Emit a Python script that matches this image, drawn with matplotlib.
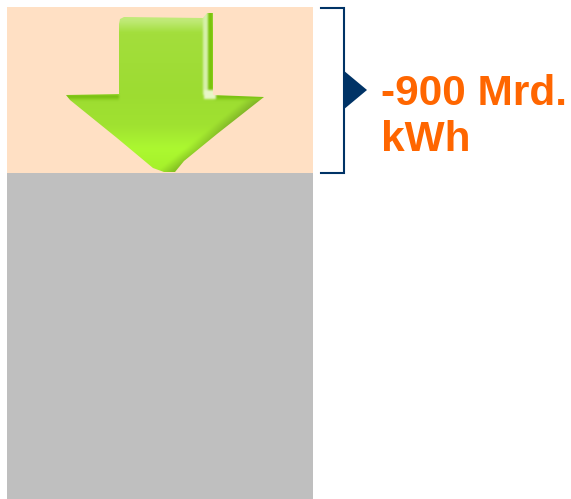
import numpy as np
import matplotlib.pyplot as plt
from matplotlib.patches import Polygon

# stacked column, values in Mrd. kWh (gray part estimated from the 900 segment)
segments = ["remaining", "savings"]
values = [1767, 900]
colors = ["#bfbfbf", "#ffe0c4"]
label_lines = ["-900 Mrd.", "kWh"]

W, H = 571, 499
fig = plt.figure(figsize=(W / 100, H / 100), dpi=100)

# bar axes, spans the whole figure height
ax = fig.add_axes([0, 0, 1, 1])
units_per_px = 900 / 166
ax.set_ylim(0, H * units_per_px)
ax.set_xlim(-7 / 306 - 0.5, (W - 7) / 306 - 0.5)
bottom = 0
for name, val, col in zip(segments, values, colors):
    ax.bar(0, val, width=1.0, bottom=bottom, color=col, linewidth=0, label=name)
    bottom += val
ax.axis("off")

# overlay in pixel coordinates for the decorations
ov = fig.add_axes([0, 0, 1, 1])
ov.set_xlim(0, W)
ov.set_ylim(H, 0)
ov.axis("off")
ov.patch.set_alpha(0)

# green arrow: gradient image clipped to an arrow outline
outline = [(119, 24), (120, 19), (124, 17), (203, 18), (207, 13), (213, 13), (213, 95),
           (264, 97), (217, 134), (184, 161), (175, 172), (164, 172), (153, 168),
           (117, 138), (70, 100), (66, 95), (119, 94)]
yy, xx = np.mgrid[0:H, 0:W]
stops_y = [13, 20, 32, 93, 125, 148, 172]
r = np.interp(yy, stops_y, [192, 192, 163, 157, 160, 172, 165])
g = np.interp(yy, stops_y, [234, 234, 222, 220, 226, 248, 240])
b = np.interp(yy, stops_y, [120, 120, 60, 50, 48, 48, 42])
img = np.dstack([r, g, b])

# slightly darker right flank of the head, close to the edge
dist = (yy - 97) - (264 - xx) * (75 / 92)
flank = np.clip(1 + dist / 14, 0, 1) * (yy > 99)
img *= (1 - 0.2 * flank)[..., None]
# top edge of the wings, fading downwards
for row, mix in [(95, 1.0), (96, 1.0), (97, 0.8), (98, 0.55), (99, 0.3), (100, 0.15)]:
    wings = (yy == row) & ((xx < 119) | (xx > 213))
    img[wings] = img[wings] * (1 - mix) + np.array([118, 190, 14]) * mix
# light stripe and dark stripe on the right of the shaft
img[(xx >= 203) & (xx < 208) & (yy < 95)] = [214, 240, 170]
img[(xx >= 208) & (xx < 213) & (yy < 95)] = [122, 196, 10]
img[(xx >= 204) & (xx < 216) & (yy >= 90) & (yy < 99)] = [232, 246, 200]

# soften, the original arrow is a scaled up bitmap
kernel = np.array([1, 2, 1]) / 4
for _ in range(2):
    for ch in range(3):
        img[..., ch] = np.apply_along_axis(np.convolve, 0, img[..., ch], kernel, mode="same")
        img[..., ch] = np.apply_along_axis(np.convolve, 1, img[..., ch], kernel, mode="same")

im = ov.imshow(img / 255, extent=(0, W, H, 0), aspect="auto", interpolation="bilinear", zorder=3)
clip = Polygon(outline, closed=True, transform=ov.transData, facecolor="none", edgecolor="none")
ov.add_patch(clip)
im.set_clip_path(clip)
ov.set_xlim(0, W)
ov.set_ylim(H, 0)

# bracket and pointer
navy = "#003366"
ov.plot([321, 343.5, 343.5, 321], [7.5, 7.5, 173, 173], color=navy, lw=1.5, solid_joinstyle="miter", zorder=4)
ov.add_patch(Polygon([(343, 70), (367, 90), (343, 110)], closed=True, facecolor=navy, edgecolor="none", zorder=4))

for line, base in zip(label_lines, [105, 151]):
    ov.text(381, base, line, color="#ff6600", fontsize=30.5, fontweight="bold",
            family="Liberation Sans", ha="left", va="baseline", zorder=5)

fig.savefig("out.png", dpi=100)
